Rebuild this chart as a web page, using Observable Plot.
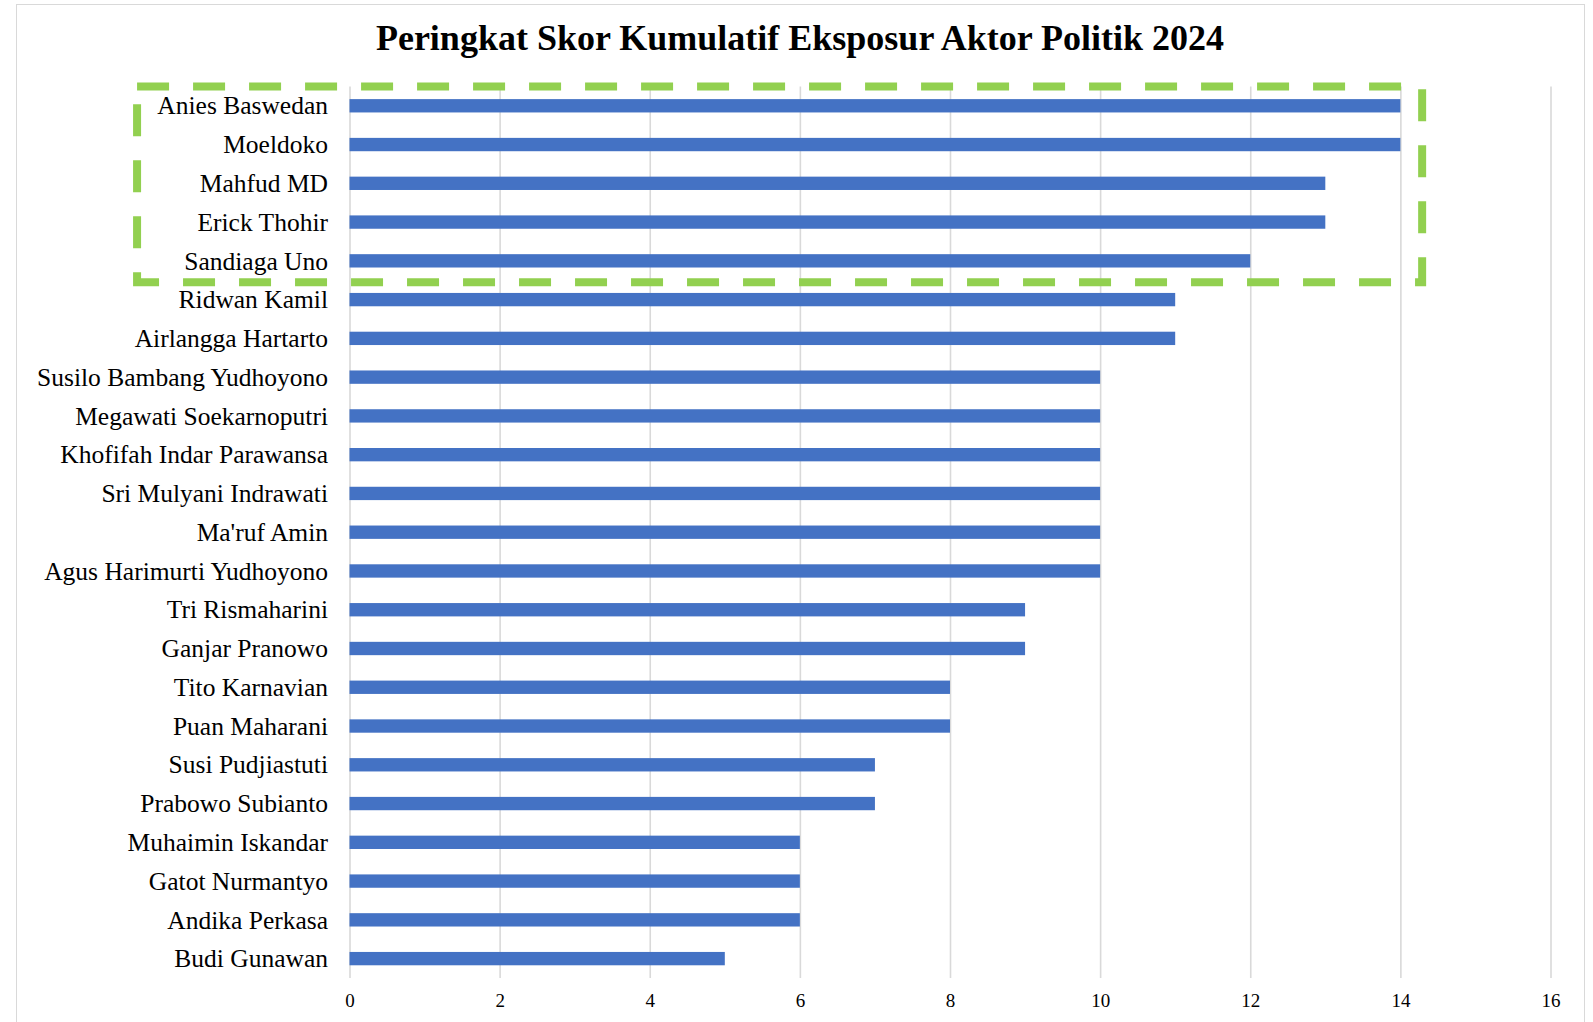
<!DOCTYPE html>
<html>
<head>
<meta charset="utf-8">
<script src="https://cdn.jsdelivr.net/npm/d3@7"></script>
<script src="https://cdn.jsdelivr.net/npm/@observablehq/plot@0.6"></script>
<style>
  html, body { margin: 0; padding: 0; background: #fff; }
  body { width: 1593px; height: 1022px; position: relative; overflow: hidden; font-family: "Liberation Serif", serif; }
  #frame { position: absolute; left: 16px; top: 4px; width: 1569px; height: 1040px; border: 1px solid #d9d9d9; box-sizing: border-box; pointer-events: none; }
  #title { position: relative; box-sizing: border-box; height: 64px; padding-top: 20px; margin: 0; text-align: center; font-family: "Liberation Serif", serif; font-weight: bold; font-size: 36px; line-height: 36px; color: #000; width: 1600px; }
  #chart { position: relative; }
</style>
</head>
<body>
<div id="frame"></div>
<div id="title">Peringkat Skor Kumulatif Eksposur Aktor Politik 2024</div>
<div id="chart"></div>
<script>
const names = [
  "Anies Baswedan", "Moeldoko", "Mahfud MD", "Erick Thohir", "Sandiaga Uno",
  "Ridwan Kamil", "Airlangga Hartarto", "Susilo Bambang Yudhoyono",
  "Megawati Soekarnoputri", "Khofifah Indar Parawansa", "Sri Mulyani Indrawati",
  "Ma'ruf Amin", "Agus Harimurti Yudhoyono", "Tri Rismaharini", "Ganjar Pranowo",
  "Tito Karnavian", "Puan Maharani", "Susi Pudjiastuti", "Prabowo Subianto",
  "Muhaimin Iskandar", "Gatot Nurmantyo", "Andika Perkasa", "Budi Gunawan"
];
const scores = [14, 14, 13, 13, 12, 11, 11, 10, 10, 10, 10, 10, 10, 9, 9, 8, 8, 7, 7, 6, 6, 6, 5];
const xTicks = [0, 2, 4, 6, 8, 10, 12, 14, 16];
const highlighted = ["Anies Baswedan", "Moeldoko", "Mahfud MD", "Erick Thohir", "Sandiaga Uno"];
const highlightXRange = [-2.83, 14.29];

const data = names.map((n, i) => ({name: n, score: scores[i]}));

function highlightBox(index, scales) {
  const y = scales.y, x = scales.x;
  const step = y(names[1]) - y(names[0]);
  const bw = y.bandwidth ? y.bandwidth() : 0;
  const centers = highlighted.map(n => y(n) + bw / 2);
  const top = d3.min(centers) - step / 2;
  const bottom = d3.max(centers) + step / 2 + 2;
  const left = x(highlightXRange[0]);
  const right = x(highlightXRange[1]);
  const r = document.createElementNS("http://www.w3.org/2000/svg", "rect");
  r.setAttribute("x", left);
  r.setAttribute("y", top);
  r.setAttribute("width", right - left);
  r.setAttribute("height", bottom - top);
  r.setAttribute("fill", "none");
  r.setAttribute("stroke", "#92D050");
  r.setAttribute("stroke-width", 8);
  r.setAttribute("stroke-dasharray", "32 24");
  return r;
}

const chart = Plot.plot({
  width: 1593,
  height: 958,
  marginLeft: 349.5,
  marginRight: 42.5,
  marginTop: 22.4,
  marginBottom: 44,
  style: {fontFamily: "Liberation Serif, serif", background: "transparent", overflow: "visible"},
  x: {domain: [0, 16], ticks: xTicks, label: null},
  y: {domain: names, type: "band", paddingInner: 0.656, paddingOuter: 0.328, round: false, label: null},
  marks: [
    Plot.gridX(xTicks, {stroke: "#d9d9d9", strokeOpacity: 1, strokeWidth: 1.6}),
    Plot.barX(data, {x: "score", y: "name", fill: "#4472C4", insetTop: 0, insetBottom: 0}),
    Plot.axisX(xTicks, {tickSize: 0, tickPadding: 15, fontSize: 19, fill: "#000", label: null}),
    Plot.axisY({tickSize: 0, tickPadding: 22, fontSize: 25.5, fill: "#000", label: null}),
    highlightBox
  ]
});
document.getElementById("chart").appendChild(chart);
</script>
</body>
</html>
